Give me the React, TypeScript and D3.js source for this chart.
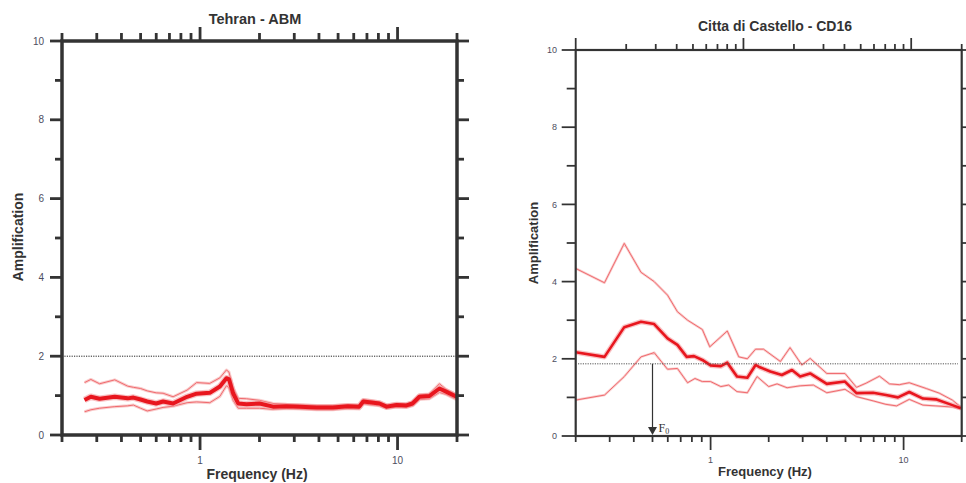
import React from "react";
import * as d3 from "d3";

// Tehran - ABM
const tehranFreq = [0.26, 0.28, 0.31, 0.37, 0.43, 0.46, 0.5, 0.54, 0.6, 0.65, 0.73, 0.86, 0.96, 1.12, 1.26, 1.36, 1.4, 1.47, 1.56, 1.72, 2.0, 2.34, 2.74, 3.2, 3.9, 4.7, 5.6, 6.4, 6.7, 7.2, 8.1, 8.8, 9.9, 11.1, 11.9, 12.9, 14.5, 16.3, 17.6, 19.9];
const tehranMean = [0.89, 0.97, 0.92, 0.97, 0.93, 0.95, 0.9, 0.85, 0.8, 0.85, 0.8, 0.97, 1.05, 1.07, 1.23, 1.44, 1.42, 1.06, 0.8, 0.78, 0.8, 0.72, 0.73, 0.72, 0.7, 0.7, 0.73, 0.72, 0.85, 0.83, 0.8, 0.72, 0.76, 0.75, 0.8, 0.97, 0.99, 1.18, 1.1, 0.97];
const tehranUpper = [1.33, 1.41, 1.3, 1.4, 1.24, 1.21, 1.18, 1.12, 1.07, 1.06, 0.97, 1.14, 1.33, 1.31, 1.45, 1.65, 1.6, 1.2, 0.93, 0.92, 0.88, 0.8, 0.78, 0.77, 0.75, 0.75, 0.77, 0.76, 0.9, 0.88, 0.84, 0.76, 0.8, 0.79, 0.84, 1.02, 1.04, 1.3, 1.16, 1.02];
const tehranLower = [0.59, 0.64, 0.68, 0.72, 0.74, 0.76, 0.68, 0.61, 0.66, 0.7, 0.73, 0.82, 0.84, 0.82, 0.98, 1.25, 1.2, 0.88, 0.68, 0.68, 0.68, 0.65, 0.67, 0.66, 0.64, 0.64, 0.67, 0.66, 0.79, 0.77, 0.74, 0.67, 0.71, 0.7, 0.74, 0.9, 0.92, 1.08, 1.03, 0.9];

// Citta di Castello - CD16
const cdMeanFreq = [0.2, 0.282, 0.357, 0.436, 0.51, 0.598, 0.673, 0.752, 0.82, 0.906, 1.0, 1.13, 1.22, 1.37, 1.55, 1.71, 1.8, 2.04, 2.34, 2.64, 2.91, 3.28, 4.0, 4.97, 5.7, 6.95, 8.1, 9.35, 10.7, 12.6, 14.7, 17.9, 19.8];
const cdMean = [2.17, 2.05, 2.82, 2.96, 2.9, 2.53, 2.36, 2.05, 2.07, 1.97, 1.83, 1.81, 1.9, 1.54, 1.51, 1.84, 1.78, 1.67, 1.58, 1.71, 1.54, 1.62, 1.35, 1.41, 1.11, 1.12, 1.06, 1.0, 1.14, 0.97, 0.95, 0.8, 0.72];
const cdUpperFreq = [0.2, 0.282, 0.357, 0.436, 0.51, 0.598, 0.673, 0.76, 0.906, 0.99, 1.22, 1.4, 1.55, 1.71, 1.88, 2.3, 2.58, 2.97, 3.28, 4.0, 4.97, 5.7, 6.4, 7.5, 8.45, 9.5, 10.7, 13.1, 15.3, 17.9, 19.8];
const cdUpper = [4.34, 3.97, 4.99, 4.24, 4.0, 3.65, 3.22, 3.0, 2.76, 2.31, 2.72, 2.05, 2.0, 2.25, 2.25, 1.93, 2.29, 1.84, 2.01, 1.62, 1.62, 1.26, 1.37, 1.55, 1.35, 1.33, 1.38, 1.23, 1.11, 0.93, 0.75];
const cdLowerFreq = [0.2, 0.282, 0.357, 0.436, 0.51, 0.598, 0.673, 0.76, 0.83, 0.906, 1.0, 1.13, 1.24, 1.37, 1.55, 1.74, 2.0, 2.21, 2.49, 2.91, 3.41, 4.0, 4.97, 5.7, 6.95, 8.1, 9.2, 10.7, 12.6, 14.7, 17.9, 19.8];
const cdLower = [0.93, 1.06, 1.54, 2.05, 2.16, 1.73, 1.75, 1.38, 1.49, 1.41, 1.41, 1.28, 1.32, 1.15, 1.12, 1.54, 1.28, 1.35, 1.25, 1.3, 1.32, 1.12, 1.21, 1.02, 0.91, 0.82, 0.78, 0.95, 0.8, 0.78, 0.75, 0.7];

const yTicks = d3.range(0, 11);
const xLabels = [1, 10];

const axisColor = "#333";
const labelColor = "#4d4d5e";
const font = "Liberation Sans, Arial, sans-serif";

const isDecade = (v) => Math.abs(Math.log10(v) - Math.round(Math.log10(v))) < 1e-6;

const Panel = ({ cfg }) => {
  const x = d3.scaleLog().domain([0.2, 20]).range([cfg.left, cfg.right]);
  const xTop = d3.scaleLog().domain(cfg.topDomain).range([cfg.left, cfg.right]);
  const y = d3.scaleLinear().domain([0, 10]).range([cfg.bottom, cfg.top]);
  const line = (fs, vs) =>
    d3.line().x((d) => x(d[0])).y((d) => y(d[1]))(fs.map((f, i) => [f, vs[i]]));

  const sw = cfg.axisWidth;
  return (
    <g>
      {/* data */}
      {cfg.thin.map((s, i) => (
        <g key={i}>
          <path d={line(s[0], s[1])} fill="none" stroke="#f7b8b8" strokeWidth={cfg.thinHalo} strokeOpacity={0.7} strokeLinejoin="round" />
          <path d={line(s[0], s[1])} fill="none" stroke="#f06a6e" strokeWidth={1} strokeLinejoin="round" />
        </g>
      ))}
      <path d={line(cfg.mean[0], cfg.mean[1])} fill="none" stroke="#f49a9c" strokeWidth={cfg.meanWidth + 2.5} strokeOpacity={0.6} strokeLinejoin="round" />
      <path d={line(cfg.mean[0], cfg.mean[1])} fill="none" stroke="#e8161e" strokeWidth={cfg.meanWidth} strokeLinejoin="round" />

      {/* reference level */}
      <line x1={cfg.dotX0} x2={cfg.dotX1} y1={y(cfg.refLevel)} y2={y(cfg.refLevel)} stroke={cfg.dotColor} strokeWidth={1} strokeDasharray="1.2,1.2" />
      {cfg.f0 && (
        <g>
          <line x1={x(cfg.f0)} x2={x(cfg.f0)} y1={y(cfg.refLevel)} y2={y(0) - 8} stroke={axisColor} strokeWidth={1.2} />
          <path d={`M${x(cfg.f0) - 4.5},${y(0) - 9}L${x(cfg.f0) + 4.5},${y(0) - 9}L${x(cfg.f0)},${y(0) - 1}Z`} fill={axisColor} />
          <text x={x(cfg.f0) + 6} y={y(0) - 4} fontFamily="Liberation Serif, serif" fontSize={12} fill={axisColor}>
            F<tspan fontSize={8} dy={2}>0</tspan>
          </text>
        </g>
      )}

      {/* frame */}
      <rect x={cfg.left} y={cfg.top} width={cfg.right - cfg.left} height={cfg.bottom - cfg.top} fill="none" stroke={axisColor} strokeWidth={sw} />

      {/* bottom ticks */}
      {x.ticks().map((t, i) => (
        <line key={"b" + i} x1={x(t)} x2={x(t)} y1={cfg.bottom} y2={cfg.bottom + (isDecade(t) ? cfg.majorB : cfg.minorB)} stroke={axisColor} strokeWidth={sw * 0.8} />
      ))}
      {/* top ticks */}
      {xTop.ticks().map((t, i) => (
        <line key={"t" + i} x1={xTop(t)} x2={xTop(t)} y1={cfg.top} y2={cfg.top - (isDecade(t) ? cfg.majorT : cfg.minorT)} stroke={axisColor} strokeWidth={sw * 0.8} />
      ))}
      {/* y ticks */}
      {yTicks.map((t) => (
        <g key={"y" + t}>
          <line x1={cfg.left} x2={cfg.left - (t % 2 === 0 ? cfg.majorY : cfg.minorY)} y1={y(t)} y2={y(t)} stroke={axisColor} strokeWidth={sw * 0.8} />
          <line x1={cfg.right} x2={cfg.right + (t % 2 === 0 ? cfg.majorY : cfg.minorY)} y1={y(t)} y2={y(t)} stroke={axisColor} strokeWidth={sw * 0.8} />
          {t % 2 === 0 && (
            <text x={cfg.yLabelX} y={y(t)} dy="0.35em" textAnchor="end" fontFamily={font} fontSize={cfg.tickFont} fill={labelColor}>
              {t}
            </text>
          )}
        </g>
      ))}
      {xLabels.map((t) => (
        <text key={"xl" + t} x={x(t)} y={cfg.xLabelY} textAnchor="middle" fontFamily={font} fontSize={cfg.tickFont} fill={labelColor}>
          {t}
        </text>
      ))}

      {/* titles */}
      <text x={cfg.titleX} y={cfg.titleY} textAnchor="middle" fontFamily={font} fontWeight="bold" fontSize={cfg.titleFont} fill={axisColor}>
        {cfg.title}
      </text>
      <text x={cfg.xTitleX} y={cfg.xTitleY} textAnchor="middle" fontFamily={font} fontWeight="bold" fontSize={cfg.axisTitleFont} fill={axisColor}>
        Frequency (Hz)
      </text>
      <text transform={`translate(${cfg.yTitleX},${cfg.yTitleY}) rotate(-90)`} textAnchor="middle" dy="0.35em" fontFamily={font} fontWeight="bold" fontSize={cfg.axisTitleFont} fill={axisColor}>
        Amplification
      </text>
    </g>
  );
};

const leftCfg = {
  left: 62, right: 457, top: 41, bottom: 435,
  topDomain: [0.2, 20],
  axisWidth: 3.5,
  majorB: 15, minorB: 7, majorT: 14, minorT: 8, majorY: 12, minorY: 7,
  mean: [tehranFreq, tehranMean],
  thin: [[tehranFreq, tehranUpper], [tehranFreq, tehranLower]],
  meanWidth: 4, thinHalo: 3,
  refLevel: 2, dotX0: 62, dotX1: 457, dotColor: "#222",
  f0: null,
  yLabelX: 44, xLabelY: 464, tickFont: 10,
  title: "Tehran - ABM", titleX: 255, titleY: 24, titleFont: 14.5,
  xTitleX: 257, xTitleY: 479, yTitleX: 18, yTitleY: 237, axisTitleFont: 14,
};

const rightCfg = {
  left: 575.7, right: 961.7, top: 50, bottom: 436,
  topDomain: [0.1, 20],
  axisWidth: 2.2,
  majorB: 14, minorB: 6, majorT: 12, minorT: 6, majorY: 14, minorY: 9,
  mean: [cdMeanFreq, cdMean],
  thin: [[cdUpperFreq, cdUpper], [cdLowerFreq, cdLower]],
  meanWidth: 2.6, thinHalo: 2.5,
  refLevel: 1.87, dotX0: 578, dotX1: 958, dotColor: "#555",
  f0: 0.5,
  yLabelX: 557, xLabelY: 463, tickFont: 9,
  title: "Citta di Castello - CD16", titleX: 775, titleY: 31, titleFont: 14,
  xTitleX: 765, xTitleY: 476, yTitleX: 533, yTitleY: 243, axisTitleFont: 13,
};

export default function App() {
  return (
    <svg width={966} height={483} style={{ position: "absolute", left: 0, top: 0, background: "#fff" }}>
      <Panel cfg={leftCfg} />
      <Panel cfg={rightCfg} />
    </svg>
  );
}
